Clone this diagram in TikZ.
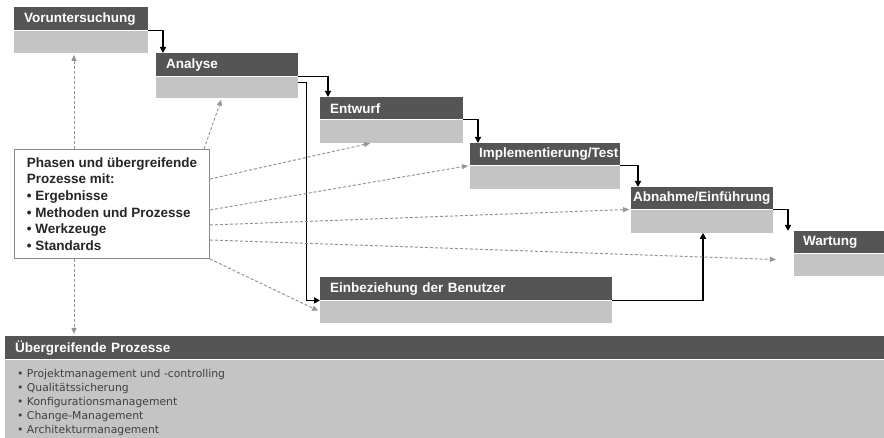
\documentclass[tikz,border=0pt]{standalone}
\usepackage{fontspec}
\setmainfont{Liberation Sans}
\newfontfamily\listfont{DejaVu Sans}
\usetikzlibrary{arrows.meta}
\definecolor{dk}{HTML}{555555}
\definecolor{lt}{HTML}{C4C4C4}
\definecolor{dshc}{HTML}{959595}
\definecolor{bord}{HTML}{8A8A8A}
\begin{document}
\begin{tikzpicture}[x=1pt,y=-1pt,
 hdr/.style={fill=dk, anchor=north west, inner xsep=10pt, inner ysep=0pt, text=white,
   font=\fontsize{13.5}{16}\selectfont\bfseries, align=left, minimum height=23pt},
 bodybox/.style={fill=lt, anchor=north west, inner sep=0pt},
 flow/.style={draw=black, line width=1.5pt, -{Triangle[length=6pt,width=6pt]}},
 hint/.style={draw=dshc, line width=1pt, dash pattern=on 3pt off 2pt,
   -{Triangle[length=6pt,width=5pt]}, shorten >=2pt},
]
\useasboundingbox (0,0) rectangle (884,438);

% phases
\node[hdr, text width=114pt] (vh) at (14,7) {\mbox{Voruntersuchung}};
\node[bodybox, minimum width=134pt, minimum height=22pt] (vb) at (vh.south west) {};

\node[hdr, text width=122pt] (ah) at (156,53) {\mbox{Analyse}};
\node[bodybox, minimum width=142pt, minimum height=21pt] (ab) at (ah.south west) {};

\node[hdr, text width=123pt, minimum height=22pt] (enh) at (320,97) {\mbox{Entwurf}};
\node[bodybox, minimum width=143pt, minimum height=23pt] (enb) at (enh.south west) {};

\node[hdr, inner xsep=9pt, text width=132pt, minimum height=22pt] (ih) at (470,143) {\mbox{Implementierung/Test}};
\node[bodybox, minimum width=150pt, minimum height=23pt] (ib) at (ih.south west) {};

\node[hdr, inner xsep=2pt, text width=138pt, minimum height=22pt] (abh) at (631,187) {\mbox{Abnahme/Einführung}};
\node[bodybox, minimum width=142pt, minimum height=23pt] (abb) at (abh.south west) {};

\node[hdr, inner xsep=9pt, text width=72pt, minimum height=22pt] (wh) at (794,231) {\mbox{Wartung}};
\node[bodybox, minimum width=90pt, minimum height=22pt] (wb) at (wh.south west) {};

\node[hdr, text width=272pt] (ebh) at (320,277) {\mbox{Einbeziehung der Benutzer}};
\node[bodybox, minimum width=292pt, minimum height=22pt] (ebb) at (ebh.south west) {};

% bottom bar
\node[hdr, text width=859pt] (bh) at (5,336) {\mbox{Übergreifende Prozesse}};
\node[bodybox, minimum width=879pt, minimum height=79pt] (bb) at (bh.south west) {};
\node[anchor=north west, inner xsep=12pt, inner ysep=10pt, align=left, text=black!75,
  font=\listfont\fontsize{10.8}{14}\selectfont] (bl) at (bb.north west)
  {• Projektmanagement und -controlling\\• Qualitätssicherung\\• Konfigurationsmanagement\\• Change-Management\\• Architekturmanagement};

% text box
\node[draw=bord, line width=1pt, fill=white, anchor=north west, minimum width=195pt,
  minimum height=109pt, align=left, text=black!85,
  font=\fontsize{13.5}{16.6}\selectfont\bfseries] (tb) at (14,149)
  {Phasen und übergreifende\\Prozesse mit:\\• Ergebnisse\\• Methoden und Prozesse\\• Werkzeuge\\• Standards};

% solid flow
\draw[flow] (vh.south east) -| ([xshift=7pt]ah.north west);
\draw[flow] (ah.south east) -| ([xshift=8pt]enh.north west);
\draw[flow] ([yshift=-6pt]ab.north east) -- ++(8,0) |- (ebh.south west);
\draw[flow] (enh.south east) -| ([xshift=8pt]ih.north west);
\draw[flow] (ih.south east) -| ([xshift=7pt]abh.north west);
\draw[flow] (abh.south east) -| ([xshift=-6pt]wh.north west);
\draw[flow] (ebh.south east) -| ([xshift=72pt]abb.south west);

% dashed hints
\coordinate (wend) at ([xshift=-16pt,yshift=5pt]wb.west);
\draw[hint] ([xshift=60pt]tb.north west) -- ([xshift=60pt]vb.south west);
\draw[hint] ([xshift=-6pt]tb.north east) -- ([xshift=66pt]ab.south west);
\draw[hint] ([yshift=-30pt]tb.north east) -- ([xshift=52pt]enb.south west);
\draw[hint] ([yshift=-61pt]tb.north east) -- (ib.north west);
\draw[hint] ([yshift=-76pt]tb.north east) -- (abb.north west);
\draw[hint] ([yshift=-91pt]tb.north east) -- (wend);
\draw[hint] (tb.south east) -- (ebb.west);
\draw[hint] ([xshift=60pt]tb.south west) -- ([xshift=69pt]bh.north west);
\end{tikzpicture}
\end{document}
